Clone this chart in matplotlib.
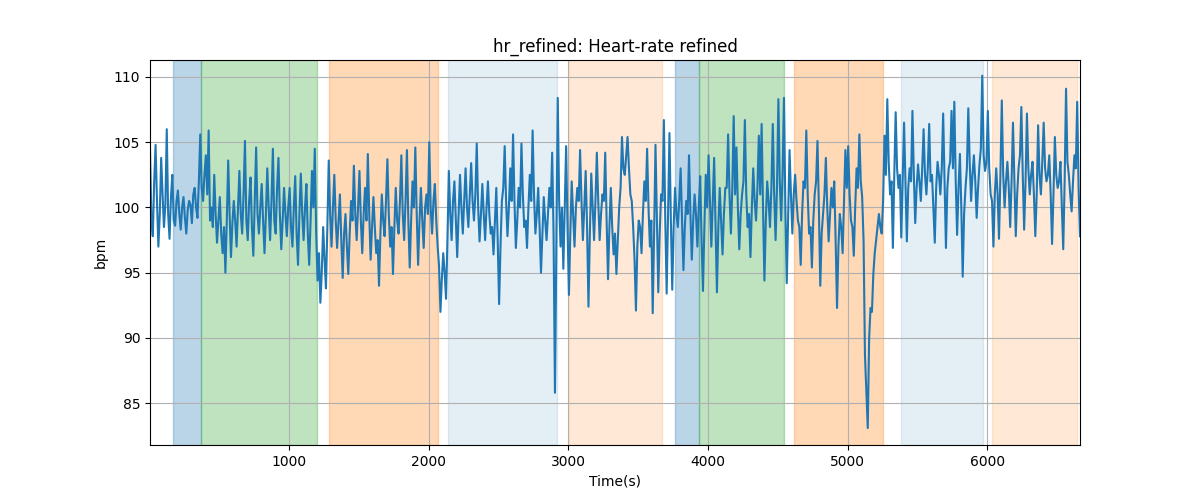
import numpy as np
import matplotlib
matplotlib.use("Agg")
import matplotlib.pyplot as plt

# sampling of the series (s)
t_start, t_step = 4, 10

hr_values = [
    104.5, 99.0, 97.8, 102.0, 104.8, 100.5, 97.0, 99.5, 103.8, 101.0, 98.5, 100.2, 106.0, 99.5, 97.6, 100.8, 102.5, 99.0, 98.6, 100.5,
    101.3, 99.5, 98.3, 100.0, 100.8, 99.2, 98.0, 99.8, 100.5, 100.2, 98.8, 101.0, 101.5, 100.0, 99.2, 102.0, 105.6, 101.5, 100.5, 102.5,
    104.0, 101.0, 105.9, 99.0, 100.0, 98.5, 102.5, 99.5, 97.3, 99.0, 100.8, 98.0, 96.5, 98.5, 95.0, 99.0, 103.6, 99.5, 96.2, 98.8,
    100.5, 99.0, 97.0, 100.0, 102.8, 99.5, 98.0, 101.0, 105.1, 99.0, 97.5, 100.5, 102.3, 98.5, 96.3, 100.5, 104.6, 99.5, 98.0, 100.0,
    101.8, 99.0, 96.5, 99.5, 103.0, 100.0, 97.5, 100.5, 104.5, 99.0, 98.0, 101.5, 103.8, 99.5, 96.8, 99.0, 101.5, 99.5, 97.8, 100.0,
    101.5, 98.5, 97.0, 100.0, 102.4, 98.0, 95.6, 99.5, 102.6, 99.5, 97.5, 100.0, 101.8, 98.0, 95.6, 99.0, 102.8, 100.0, 104.5, 98.0,
    94.4, 96.5, 92.7, 95.0, 98.5, 96.0, 93.8, 98.5, 103.6, 99.5, 97.0, 100.0, 102.5, 99.0, 96.9, 99.0, 101.0, 97.5, 94.6, 98.0,
    99.5, 97.0, 94.9, 98.0, 100.5, 99.0, 103.2, 99.5, 97.5, 100.0, 102.8, 99.0, 96.5, 99.5, 101.5, 99.0, 104.1, 99.5, 96.0, 98.5,
    100.8, 98.5, 96.5, 97.5, 94.0, 98.0, 101.0, 99.0, 97.8, 100.5, 103.7, 99.5, 97.0, 98.5, 94.9, 98.5, 101.5, 99.0, 98.0, 100.5,
    104.0, 99.5, 97.5, 100.5, 104.4, 99.0, 95.4, 99.0, 102.0, 100.0, 104.6, 99.5, 95.6, 99.0, 101.5, 99.0, 96.9, 100.0, 101.0, 99.5,
    105.0, 100.0, 98.0, 100.5, 101.8, 99.0, 97.0, 95.5, 92.0, 94.5, 96.5, 95.0, 93.0, 97.5, 102.8, 99.5, 97.5, 100.5, 102.0, 99.0,
    96.2, 99.5, 102.5, 100.0, 98.0, 100.5, 103.0, 100.0, 98.5, 101.0, 103.4, 100.5, 99.0, 101.0, 104.9, 100.0, 97.4, 99.5, 101.8, 99.5,
    97.5, 100.0, 102.0, 99.5, 98.0, 98.5, 96.4, 99.0, 101.5, 97.5, 92.6, 97.0, 100.5, 101.5, 104.7, 100.5, 97.8, 100.0, 103.0, 100.5,
    105.6, 100.5, 96.9, 99.0, 101.5, 100.0, 104.9, 101.0, 98.5, 99.0, 96.9, 100.0, 102.5, 100.5, 105.9, 101.0, 98.0, 99.5, 101.5, 98.5,
    95.0, 98.0, 100.8, 99.0, 97.5, 99.5, 101.5, 100.0, 104.2, 98.0, 85.8, 97.0, 108.4, 100.5, 97.0, 100.0, 95.3, 100.0, 104.7, 98.5,
    93.3, 98.0, 102.0, 99.5, 97.0, 100.0, 101.5, 100.5, 104.4, 100.5, 97.5, 100.0, 102.8, 98.5, 92.4, 98.0, 102.6, 100.0, 97.5, 100.5,
    104.2, 100.5, 97.5, 99.5, 101.0, 100.5, 104.2, 99.0, 94.5, 98.5, 101.5, 98.5, 96.4, 98.0, 94.9, 97.5, 100.0, 101.5, 105.4, 103.0,
    102.5, 104.0, 105.4, 103.0, 101.0, 100.5, 98.5, 96.0, 92.1, 97.0, 99.0, 98.5, 96.5, 99.5, 102.0, 100.5, 104.5, 100.0, 97.0, 99.0,
    91.9, 98.0, 104.8, 99.0, 93.5, 98.0, 101.0, 100.5, 106.7, 99.0, 93.4, 99.5, 105.7, 99.0, 93.7, 98.5, 101.5, 99.5, 98.5, 100.5,
    103.0, 99.0, 95.2, 98.5, 100.5, 99.5, 104.0, 99.5, 96.0, 99.0, 101.0, 99.5, 97.0, 100.0, 102.4, 97.5, 93.6, 98.5, 102.5, 100.0,
    104.0, 100.5, 97.0, 100.5, 103.8, 98.5, 93.5, 98.5, 101.5, 99.0, 96.4, 99.5, 101.5, 101.5, 105.6, 101.0, 98.0, 101.5, 107.0, 101.0,
    104.6, 100.0, 96.8, 99.5, 101.0, 102.0, 106.7, 101.0, 98.5, 99.5, 96.2, 100.0, 103.0, 100.5, 99.0, 101.5, 105.5, 101.0, 106.4, 100.0,
    94.4, 99.0, 102.0, 100.5, 98.5, 101.5, 106.4, 101.0, 97.5, 101.5, 108.3, 102.0, 99.0, 102.5, 108.4, 100.0, 94.2, 99.5, 104.4, 101.0,
    98.0, 101.0, 102.5, 100.5, 99.0, 98.5, 95.6, 99.5, 102.0, 101.5, 105.9, 101.0, 98.0, 98.5, 95.4, 99.0, 101.0, 102.0, 105.1, 100.0,
    94.0, 98.0, 99.5, 101.0, 103.8, 100.0, 97.4, 99.5, 101.5, 100.0, 102.0, 97.5, 92.3, 97.0, 99.5, 98.5, 96.5, 100.5, 104.4, 101.5,
    104.7, 101.0, 99.0, 98.5, 96.3, 100.0, 103.0, 101.5, 105.6, 102.0, 100.8, 97.5, 88.7, 86.0, 83.1, 90.0, 92.3, 92.0, 94.9, 96.5,
    97.5, 98.5, 99.5, 98.5, 98.0, 100.5, 105.5, 102.5, 108.3, 103.5, 101.0, 102.0, 96.9, 102.5, 107.3, 103.0, 101.5, 102.5, 97.7, 102.0,
    106.5, 102.0, 97.4, 101.5, 103.0, 102.0, 107.4, 102.5, 98.8, 101.5, 103.3, 102.0, 100.5, 103.0, 106.0, 102.5, 101.0, 103.0, 106.4, 102.0,
    102.5, 100.0, 97.3, 101.5, 103.5, 102.5, 101.0, 103.0, 107.2, 102.0, 96.9, 101.5, 103.0, 103.5, 107.4, 103.0, 108.1, 102.0, 97.9, 101.5,
    104.1, 100.0, 94.7, 99.5, 101.5, 103.0, 107.6, 103.5, 100.5, 102.5, 104.0, 102.0, 99.2, 101.5, 103.3, 104.5, 110.1, 104.0, 102.8, 103.5,
    107.4, 103.0, 101.0, 100.5, 97.0, 101.0, 103.0, 101.0, 97.6, 102.5, 108.2, 102.5, 100.0, 102.0, 103.5, 101.5, 98.5, 102.0, 106.5, 102.0,
    97.8, 101.0, 103.0, 104.0, 107.7, 102.5, 98.3, 102.0, 107.2, 103.0, 101.0, 102.5, 103.5, 101.0, 97.8, 101.0, 106.3, 102.5, 101.0, 103.5,
    106.5, 103.0, 102.0, 102.5, 104.0, 101.0, 97.2, 101.0, 105.4, 102.5, 101.5, 102.0, 103.5, 100.0, 96.8, 102.0, 109.1, 103.5, 102.5, 101.0,
    99.7, 102.0, 104.0, 103.0, 108.1, 101.5, 97.8,
]

span_starts = [169, 372, 1289, 2139, 3001, 3767, 3935, 4618, 5379, 6034]
span_ends = [372, 1198, 2067, 2920, 3672, 3935, 4546, 5255, 5969, 6645]
span_colors = ["tab:blue", "tab:green", "tab:orange", "tab:blue", "tab:orange",
               "tab:blue", "tab:green", "tab:orange", "tab:blue", "tab:orange"]
span_alphas = [0.3, 0.3, 0.3, 0.12, 0.17, 0.3, 0.3, 0.3, 0.12, 0.17]

time = t_start + t_step * np.arange(len(hr_values))

fig, ax = plt.subplots(figsize=(12, 5), dpi=100)
for s, e, c, a in zip(span_starts, span_ends, span_colors, span_alphas):
    ax.axvspan(s, e, color=c, alpha=a)
ax.plot(time, hr_values, color="tab:blue", linewidth=1.5)
ax.set_xlim(time[0], time[-1])
ax.set_ylim(81.8, 111.3)
ax.grid(True)
ax.set_title("hr_refined: Heart-rate refined")
ax.set_xlabel("Time(s)")
ax.set_ylabel("bpm")
fig.savefig("out.png")
